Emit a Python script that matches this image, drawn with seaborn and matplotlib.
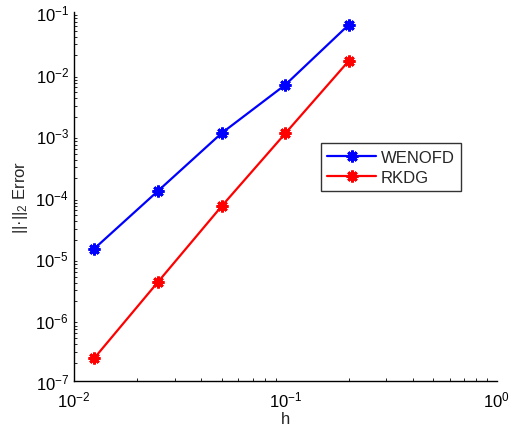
import pandas as pd
import seaborn as sns
import matplotlib.pyplot as plt

# grid spacing and L2 errors
h = [0.0125, 0.025, 0.05, 0.1, 0.2]
err_wenofd = [1.43e-5, 1.24e-4, 1.08e-3, 6.6e-3, 6.3e-2]
err_rkdg = [2.37e-7, 4.1e-6, 7.0e-5, 1.07e-3, 1.63e-2]
methods = ['WENOFD', 'RKDG']

df = pd.DataFrame({
    'h': h * 2,
    'err': err_wenofd + err_rkdg,
    'method': [methods[0]] * len(h) + [methods[1]] * len(h),
})

sns.set_style('white')
plt.rcParams['font.family'] = ['Liberation Sans', 'DejaVu Sans']
plt.rcParams['mathtext.fontset'] = 'custom'
plt.rcParams['mathtext.rm'] = 'Liberation Sans'
plt.rcParams['mathtext.it'] = 'Liberation Sans'

fig = plt.figure(figsize=(5.09, 4.27), dpi=100)
ax = fig.add_axes([0.145, 0.105, 0.831, 0.864])

sns.lineplot(data=df, x='h', y='err', hue='method', hue_order=methods,
             palette=['#0000ff', '#ff0000'], marker=(8, 2, 0), markersize=8.5,
             markeredgewidth=2.0, linewidth=1.6, ax=ax)
for ln in ax.lines:
    ln.set_markeredgecolor(ln.get_color())
    ln.set_markerfacecolor(ln.get_color())

ax.set_xscale('log')
ax.set_yscale('log')
ax.set_xlim(1e-2, 1)
ax.set_ylim(1e-7, 1e-1)

for side in ['top', 'right']:
    ax.spines[side].set_visible(False)
for side in ['left', 'bottom']:
    ax.spines[side].set_linewidth(1.0)
    ax.spines[side].set_color('black')

ax.tick_params(which='both', direction='in', labelsize=12, colors='black')
ax.tick_params(which='major', length=4)
ax.tick_params(which='minor', length=2, left=True, bottom=True)
ax.tick_params(axis='x', pad=6)

ax.set_xlabel('h', fontsize=12, labelpad=1)
ax.set_ylabel('||·||$_2$ Error', fontsize=12, labelpad=4)

leg = ax.legend(loc='upper left', bbox_to_anchor=(0.564, 0.668), fontsize=12,
                frameon=True, fancybox=False, edgecolor='black',
                handlelength=2.9, borderpad=0.4, labelspacing=0.3,
                handletextpad=0.3)
leg.get_frame().set_linewidth(1.0)
for ln in leg.get_lines():
    ln.set_markeredgecolor(ln.get_color())
    ln.set_markerfacecolor(ln.get_color())

fig.savefig('out.png', dpi=100)
